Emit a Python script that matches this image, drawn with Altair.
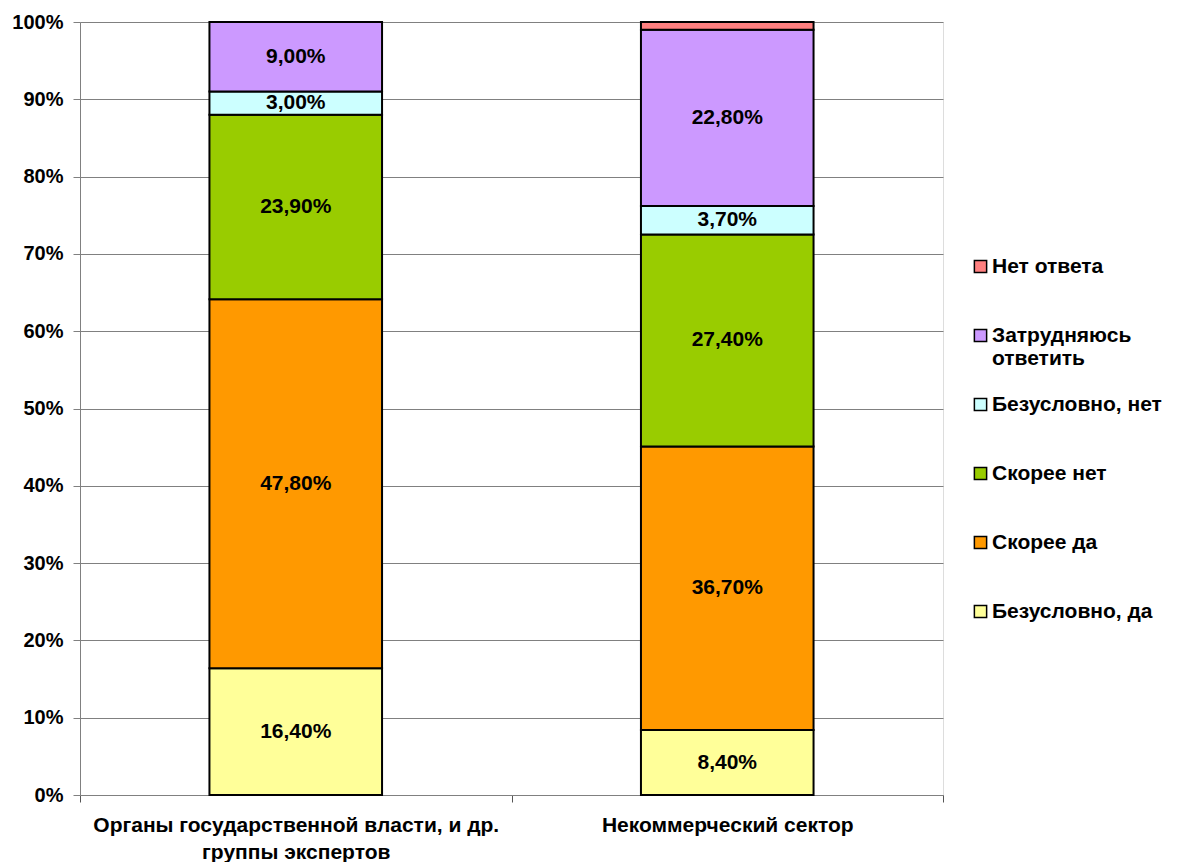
import altair as alt
import pandas as pd

categories = ["Органы государственной власти, и др.|группы экспертов", "Некоммерческий сектор"]
series = ["Безусловно, да", "Скорее да", "Скорее нет", "Безусловно, нет", "Затрудняюсь|ответить", "Нет ответа"]
colors = ["#FFFF99", "#FF9900", "#99CC00", "#CCFFFF", "#CC99FF", "#FF8080"]
values_gov = [16.4, 47.8, 23.9, 3.0, 9.0, 0.0]
values_ngo = [8.4, 36.7, 27.4, 3.7, 22.8, 1.0]
y_ticks = [0, 0.1, 0.2, 0.3, 0.4, 0.5, 0.6, 0.7, 0.8, 0.9, 1.0]

rows = []
for cat, vals in zip(categories, [values_gov, values_ngo]):
    for i, (s, v) in enumerate(zip(series, vals)):
        rows.append({"cat": cat, "series": s, "value": v, "rank": i})
df = pd.DataFrame(rows)

FONT = "Liberation Sans"

base = alt.Chart(df).transform_stack(
    stack="value", groupby=["cat"], sort=[alt.SortField("rank", order="ascending")],
    as_=["y0", "y1"], offset="normalize"
).transform_calculate(
    mid="(datum.y0 + datum.y1) / 2",
    label="replace(format(datum.value, '.2f'), '.', ',') + '%'"
)

x_enc = alt.X("cat:N", sort=categories, title=None,
              scale=alt.Scale(paddingInner=0, paddingOuter=0),
              axis=alt.Axis(labelExpr="split(datum.label, '|')", labelAngle=0,
                            labelFont=FONT, labelFontSize=21, labelFontWeight="bold",
                            labelColor="black", labelPadding=12, labelLineHeight=27,
                            labelLimit=600,
                            tickBand="extent", tickSize=7, tickColor="#555555",
                            domainColor="#808080", grid=False))

bars = base.mark_bar(stroke="black", strokeWidth=2, width=alt.RelativeBandSize(0.4)).encode(
    x=x_enc,
    y=alt.Y("y0:Q", title=None, scale=alt.Scale(domain=[0, 1], nice=False),
            axis=alt.Axis(values=y_ticks, format=".0%", labelFont=FONT, labelFontSize=20,
                          labelFontWeight="bold", labelColor="black", labelPadding=10,
                          tickSize=7, tickColor="#808080", domainColor="#808080",
                          gridColor="#808080", gridWidth=1, minExtent=72, maxExtent=72)),
    y2="y1:Q",
    color=alt.Color("series:N", title=None,
                    scale=alt.Scale(domain=series[::-1], range=colors[::-1]),
                    legend=alt.Legend(orient="none", legendX=890, legendY=234,
                                      symbolType="square", symbolSize=150,
                                      symbolStrokeColor="black", symbolStrokeWidth=1.5,
                                      symbolOpacity=1,
                                      labelFont=FONT, labelFontSize=21, labelFontWeight="bold",
                                      labelColor="black",
                                      labelExpr="indexof(datum.label, '|') >= 0 ? split(datum.label, '|') : [datum.label, '']",
                                      labelOffset=1, rowPadding=24, labelLimit=300)),
    order=alt.Order("rank:Q"),
)

text = base.transform_filter("datum.series != 'Нет ответа'").mark_text(
    font=FONT, fontSize=21, fontWeight="bold", color="black"
).encode(
    x=alt.X("cat:N", sort=categories),
    y=alt.Y("mid:Q"),
    text="label:N",
)

chart = alt.layer(bars, text).properties(
    width=863, height=773,
    padding={"left": 0, "top": 4, "right": 0, "bottom": 0},
).configure_view(stroke="#808080", strokeWidth=1).configure(background="white")

chart.save("out.html", embed_options={"renderer": "svg", "actions": False})
